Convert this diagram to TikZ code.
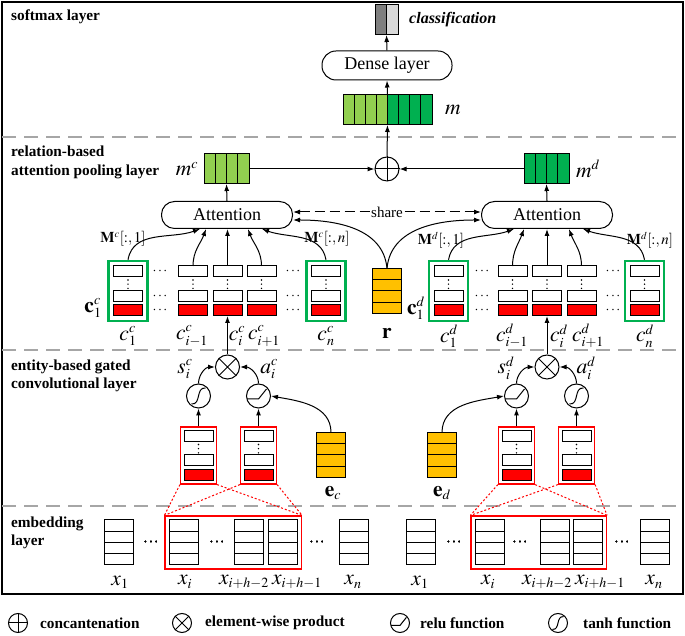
\documentclass[tikz,border=0pt]{standalone}
\usepackage{mathptmx}
\usepackage{fontspec}
\setmainfont{Liberation Serif}
\usetikzlibrary{arrows.meta, positioning, fit, calc}
\DeclareMathSizes{21.5}{21.5}{14}{11}
\DeclareMathSizes{15}{15}{10.5}{8}

\definecolor{lgreen}{HTML}{92D050}
\definecolor{dgreen}{HTML}{00B050}
\definecolor{boxgreen}{HTML}{00B050}
\definecolor{gold}{HTML}{FFC000}
\definecolor{sepgray}{HTML}{A6A6A6}
\definecolor{clsdark}{HTML}{7F7F7F}
\definecolor{clslight}{HTML}{D9D9D9}

% one column of a feature map: two white cells, dots, one red cell
\newcommand{\cellcol}[3]{%
  \node[cell] (#1a) at (#2,#3) {};
  \node[cell] (#1b) at (#2,#3-24.5) {};
  \node[redcell] (#1c) at (#2,#3-39) {};
  \draw[vdots] ([yshift=-3pt]#1a.south) -- ([yshift=2pt]#1b.north);}

% vertical vector of four cells
\newcommand{\wordvec}[4]{%
  \node[vecbox, fill=#4, minimum width=29pt, minimum height=45pt] (#1) at (#2,#3) {};
  \foreach \k in {1,2,3}
    \draw[line width=1pt] ([yshift=-\k*11.25pt]#1.north west) -- ([yshift=-\k*11.25pt]#1.north east);}

\begin{document}
\begin{tikzpicture}[x=1pt, y=1pt, >={Latex[length=7pt,width=5pt]}]

  % --- styles ---
  \tikzset{
    outer/.style={line width=1.3pt},
    layersep/.style={draw=sepgray, line width=1.4pt, dash pattern=on 14pt off 8pt},
    layerlbl/.style={font=\fontsize{15.3}{18.5}\selectfont\bfseries, align=left, anchor=west, inner sep=0pt},
    block/.style={draw, line width=1pt, rounded corners=13pt, minimum height=27pt, font=\fontsize{18}{20}\selectfont},
    vecbox/.style={draw, line width=1pt, inner sep=0pt, outer sep=0pt},
    cell/.style={vecbox, minimum width=29pt, minimum height=11pt, fill=white},
    redcell/.style={cell, fill=red},
    greenbox/.style={draw=boxgreen, line width=2.4pt, inner sep=5pt},
    winbox/.style={draw=red, line width=1.2pt, inner sep=3.5pt},
    op/.style={circle, draw, line width=1pt, minimum size=24pt, inner sep=0pt},
    arr/.style={->, line width=1pt},
    vdots/.style={line width=1.6pt, line cap=round, dash pattern=on 0pt off 4.2pt},
    hdots/.style={font=\fontsize{14}{14}\selectfont, inner sep=0pt},
    mlab/.style={font=\fontsize{21.5}{23}\selectfont, inner sep=0pt},
    slab/.style={font=\fontsize{15}{17}\selectfont, inner sep=0pt},
    link/.style={draw=red, line width=1pt, dash pattern=on 2pt off 2pt},
    relusym/.pic={\draw[line width=1pt] (-11.3,-3) -- (0,-3) -- (8,7);},
    tanhsym/.pic={\draw[line width=1pt] (-7,-8) .. controls (3,-9) and (-3,9) .. (7,8);}
  }

  \useasboundingbox (0,0) rectangle (685,636);

  % --- frame and layers ---
  \draw[outer] (2,42) rectangle (683,634);
  \draw[layersep] (2,499) -- (683,499);
  \draw[layersep] (2,286) -- (683,286);
  \draw[layersep] (2,130) -- (683,130);

  \node[layerlbl] (lsoft) at (11,619) {softmax layer};
  \node[layerlbl] (lrel) at (11,473.5) {relation-based\\attention pooling layer};
  \node[layerlbl] (lent) at (11,260) {entity-based gated\\convolutional layer};
  \node[layerlbl] (lemb) at (11,103) {embedding\\layer};

  % --- softmax layer ---
  \node[vecbox, fill=clslight, minimum width=23pt, minimum height=30pt] (cls) at (386.5,616) {};
  \fill[clsdark] (cls.south west) rectangle (cls.north);
  \draw[line width=1pt] (cls.south west) rectangle (cls.north east) (cls.south) -- (cls.north);
  \node[font=\fontsize{16}{18}\selectfont\bfseries\itshape, anchor=west, inner sep=0pt] (lcls) at (409,616) {classification};

  \node[block, minimum width=130pt, minimum height=29pt, rounded corners=14pt] (dense) at (387,570.5) {Dense layer};

  \node[vecbox, fill=dgreen, minimum width=89pt, minimum height=30pt] (m) at (387.5,526) {};
  \fill[lgreen] (m.south west) rectangle (m.north);
  \foreach \k in {1,...,7}
    \draw[line width=1pt] ([xshift=\k*11.125pt]m.north west) -- ([xshift=\k*11.125pt]m.south west);
  \draw[line width=1pt] (m.south west) rectangle (m.north east);
  \node[mlab] (lm) at (453,526) {$m$};

  % --- attention pooling layer ---
  \node[vecbox, fill=lgreen, minimum width=45pt, minimum height=30pt] (mc) at (226.5,467) {};
  \node[vecbox, fill=dgreen, minimum width=45pt, minimum height=30pt] (md) at (546.5,467) {};
  \foreach \k in {1,2,3} {
    \draw[line width=1pt] ([xshift=\k*11.25pt]mc.north west) -- ([xshift=\k*11.25pt]mc.south west);
    \draw[line width=1pt] ([xshift=\k*11.25pt]md.north west) -- ([xshift=\k*11.25pt]md.south west);
  }
  \node[mlab] (lmc) at (187,467) {$m^c$};
  \node[mlab] (lmd) at (588,467) {$m^d$};

  \node[op] (plus) at (387,467) {};
  \draw[line width=1pt] (plus.north) -- (plus.south) (plus.west) -- (plus.east);

  \node[block, minimum width=131pt] (attL) at (227,421) {Attention};
  \node[block, minimum width=131pt] (attR) at (547,421) {Attention};

  % feature map columns
  \cellcol{cc1}{128}{364.5}
  \cellcol{cci1}{193}{364.5}
  \cellcol{cci}{227.5}{364.5}
  \cellcol{cci2}{261.5}{364.5}
  \cellcol{ccn}{326}{364.5}
  \cellcol{cd1}{448.5}{364.5}
  \cellcol{cdi1}{512.5}{364.5}
  \cellcol{cdi}{547}{364.5}
  \cellcol{cdi2}{581.5}{364.5}
  \cellcol{cdn}{644.5}{364.5}
  \node[greenbox, fit=(cc1a)(cc1c)] (gc1) {};
  \node[greenbox, fit=(ccna)(ccnc)] (gcn) {};
  \node[greenbox, fit=(cd1a)(cd1c)] (gd1) {};
  \node[greenbox, fit=(cdna)(cdnc)] (gdn) {};

  \foreach \xx/\nm in {160/dl, 293/dm, 482/dn, 613/dr}
    \foreach \yy/\rr in {364.5/a, 340/b, 325.5/c}
      \node[hdots] (\nm\rr) at (\xx,\yy) {$\cdots$};

  \wordvec{r}{387}{345}{gold}
  \node[mlab] (lr) at (387,303) {$\mathbf{r}$};

  \node[mlab] (bc1) at (93,328) {$\mathbf{c}_1^c$};
  \node[mlab] (bd1) at (416,328) {$\mathbf{c}_1^d$};

  \node[mlab] (lcc1) at (128,300) {$c_1^c$};
  \node[mlab] (lcci1) at (192,300) {$c_{i-1}^c$};
  \node[mlab] (lcci) at (237,300) {$c_i^c$};
  \node[mlab] (lcci2) at (264,300) {$c_{i+1}^c$};
  \node[mlab] (lccn) at (326,300) {$c_n^c$};
  \node[mlab] (lcd1) at (449,300) {$c_1^d$};
  \node[mlab] (lcdi1) at (512,300) {$c_{i-1}^d$};
  \node[mlab] (lcdi) at (559,300) {$c_i^d$};
  \node[mlab] (lcdi2) at (588,300) {$c_{i+1}^d$};
  \node[mlab] (lcdn) at (645,300) {$c_n^d$};

  \node[slab] (mc1) at (123,397) {$\mathbf{M}^c[:,1]$};
  \node[slab] (mcn) at (327,397) {$\mathbf{M}^c[:,n]$};
  \node[slab] (md1) at (441,396) {$\mathbf{M}^d[:,1]$};
  \node[slab] (mdn) at (650,396) {$\mathbf{M}^d[:,n]$};

  % --- entity-based gated convolution ---
  \node[op] (mulL) at (227.5,269) {};
  \node[op] (tanhL) at (198.5,240) {};
  \node[op] (reluL) at (258.5,240) {};
  \node[op] (mulR) at (547,269) {};
  \node[op] (reluR) at (516.5,240) {};
  \node[op] (tanhR) at (576.5,240) {};
  \draw[line width=1pt] (mulL.north west) -- (mulL.south east) (mulL.north east) -- (mulL.south west);
  \draw[line width=1pt] (mulR.north west) -- (mulR.south east) (mulR.north east) -- (mulR.south west);
  \pic at (tanhL) {tanhsym};
  \pic at (reluL) {relusym};
  \pic at (reluR) {relusym};
  \pic at (tanhR) {tanhsym};

  \node[mlab] (lsc) at (185,267) {$s_i^c$};
  \node[mlab] (lac) at (269,267) {$a_i^c$};
  \node[mlab] (lsd) at (506,268) {$s_i^d$};
  \node[mlab] (lad) at (586,268) {$a_i^d$};

  \cellcol{wc1}{198.5}{200}
  \cellcol{wc2}{258.5}{200}
  \cellcol{wd1}{516.5}{200}
  \cellcol{wd2}{576.5}{200}
  \node[winbox, fit=(wc1a)(wc1c)] (fwc1) {};
  \node[winbox, fit=(wc2a)(wc2c)] (fwc2) {};
  \node[winbox, fit=(wd1a)(wd1c)] (fwd1) {};
  \node[winbox, fit=(wd2a)(wd2c)] (fwd2) {};

  \wordvec{ec}{331}{181}{gold}
  \wordvec{ed}{442}{181}{gold}
  \node[mlab] (lec) at (333,143) {$\mathbf{e}_c$};
  \node[mlab] (led) at (442,143) {$\mathbf{e}_d$};

  % --- embedding layer ---
  \foreach \nm/\xx in {ex1/118.5, exi/183.5, exh2/249, exh1/283, exn/353.5,
                       fx1/420.5, fxi/489.5, fxh2/554.5, fxh1/588, fxn/654.5}
    \wordvec{\nm}{\xx}{93.5}{white}
  \foreach \xx/\nm in {151/e1, 217/e2, 317/e3, 454/e4, 520/e5, 622/e6}
    \node[hdots] (\nm) at (\xx,93.5) {$\cdots$};
  \node[winbox, inner sep=4pt, fit=(exi)(exh1)] (embL) {};
  \node[winbox, inner sep=4pt, fit=(fxi)(fxh1)] (embR) {};

  \node[mlab] (lx1) at (120,54) {$x_1$};
  \node[mlab] (lxi) at (185,54) {$x_i$};
  \node[mlab] (lxh2) at (244,54) {$x_{i+h-2}$};
  \node[mlab] (lxh1) at (297,54) {$x_{i+h-1}$};
  \node[mlab] (lxn) at (353,54) {$x_n$};
  \node[mlab] (ly1) at (420,54) {$x_1$};
  \node[mlab] (lyi) at (488,54) {$x_i$};
  \node[mlab] (lyh2) at (547,54) {$x_{i+h-2}$};
  \node[mlab] (lyh1) at (600,54) {$x_{i+h-1}$};
  \node[mlab] (lyn) at (654,54) {$x_n$};

  % --- connections ---
  \draw[arr] (dense.north) -- (cls.south);
  \draw[arr] (m.north) -- (dense.south);
  \draw[arr] (plus.north) -- (m.south);
  \draw[arr] (mc.east) -- (plus.west);
  \draw[arr] (md.west) -- (plus.east);
  \draw[arr] (attL.north) -- (mc.south);
  \draw[arr] (attR.north) -- (md.south);

  \draw[arr, <->, dash pattern=on 10pt off 5pt] ([yshift=3pt]attL.east) --
    node[fill=white, inner sep=1pt, font=\fontsize{15}{17}\selectfont] (share) {share} ([yshift=3pt]attR.west);
  \draw[arr] (r.north) to[out=95, in=0] ([yshift=-5pt]attL.east);
  \draw[arr] (r.north) to[out=85, in=180] ([yshift=-5pt]attR.west);

  \draw[arr] (gc1.north) to[out=80, in=-160] ([xshift=-27pt]attL.south);
  \draw[arr] (cci1a.north) to[out=90, in=-110] ([xshift=-21pt]attL.south);
  \draw[arr] (ccia.north) -- (ccia.north |- attL.south);
  \draw[arr] (cci2a.north) to[out=90, in=-70] ([xshift=21pt]attL.south);
  \draw[arr] (gcn.north) to[out=100, in=-20] ([xshift=35pt]attL.south);
  \draw[arr] (gd1.north) to[out=80, in=-160] ([xshift=-33pt]attR.south);
  \draw[arr] (cdi1a.north) to[out=90, in=-110] ([xshift=-23pt]attR.south);
  \draw[arr] (cdia.north) -- (cdia.north |- attR.south);
  \draw[arr] (cdi2a.north) to[out=90, in=-70] ([xshift=22pt]attR.south);
  \draw[arr] (gdn.north) to[out=100, in=-20] ([xshift=36pt]attR.south);

  \draw[arr] (mulL.north) -- (ccic.south);
  \draw[arr] (mulR.north) -- (cdic.south);
  \draw[arr] (tanhL.north) to[out=90, in=180] (mulL.west);
  \draw[arr] (reluL.north) to[out=90, in=0] (mulL.east);
  \draw[arr] (reluR.north) to[out=90, in=180] (mulR.west);
  \draw[arr] (tanhR.north) to[out=90, in=0] (mulR.east);
  \draw[arr] (fwc1.north) -- (tanhL.south);
  \draw[arr] (fwc2.north) -- (reluL.south);
  \draw[arr] (fwd1.north) -- (reluR.south);
  \draw[arr] (fwd2.north) -- (tanhR.south);
  \draw[arr] (ec.north) to[out=90, in=-10] (reluL.east);
  \draw[arr] (ed.north) to[out=90, in=190] (reluR.west);

  \draw[link] (fwc1.south west) -- (embL.north west);
  \draw[link] (fwc1.south east) -- (embL.north east);
  \draw[link] (fwc2.south west) -- (embL.north west);
  \draw[link] (fwc2.south east) -- (embL.north east);
  \draw[link] (fwd1.south west) -- (embR.north west);
  \draw[link] (fwd1.south east) -- (embR.north east);
  \draw[link] (fwd2.south west) -- (embR.north west);
  \draw[link] (fwd2.south east) -- (embR.north east);

  % --- legend ---
  \node[op, minimum size=19pt] (kplus) at (18,13) {};
  \draw[line width=1pt] (kplus.north) -- (kplus.south) (kplus.west) -- (kplus.east);
  \node[layerlbl] (tplus) at (40,13) {concantenation};
  \node[op, minimum size=19pt] (ktimes) at (182,13) {};
  \draw[line width=1pt] (ktimes.north west) -- (ktimes.south east) (ktimes.north east) -- (ktimes.south west);
  \node[layerlbl] (ttimes) at (205,13) {element-wise product};
  \node[op, minimum size=19pt] (krelu) at (400,13) {};
  \pic[scale=0.8] at (krelu) {relusym};
  \node[layerlbl] (trelu) at (420,13) {relu function};
  \node[op, minimum size=19pt] (ktanh) at (558,13) {};
  \pic[scale=0.8] at (ktanh) {tanhsym};
  \node[layerlbl] (ttanh) at (583,13) {tanh function};

\end{tikzpicture}
\end{document}
